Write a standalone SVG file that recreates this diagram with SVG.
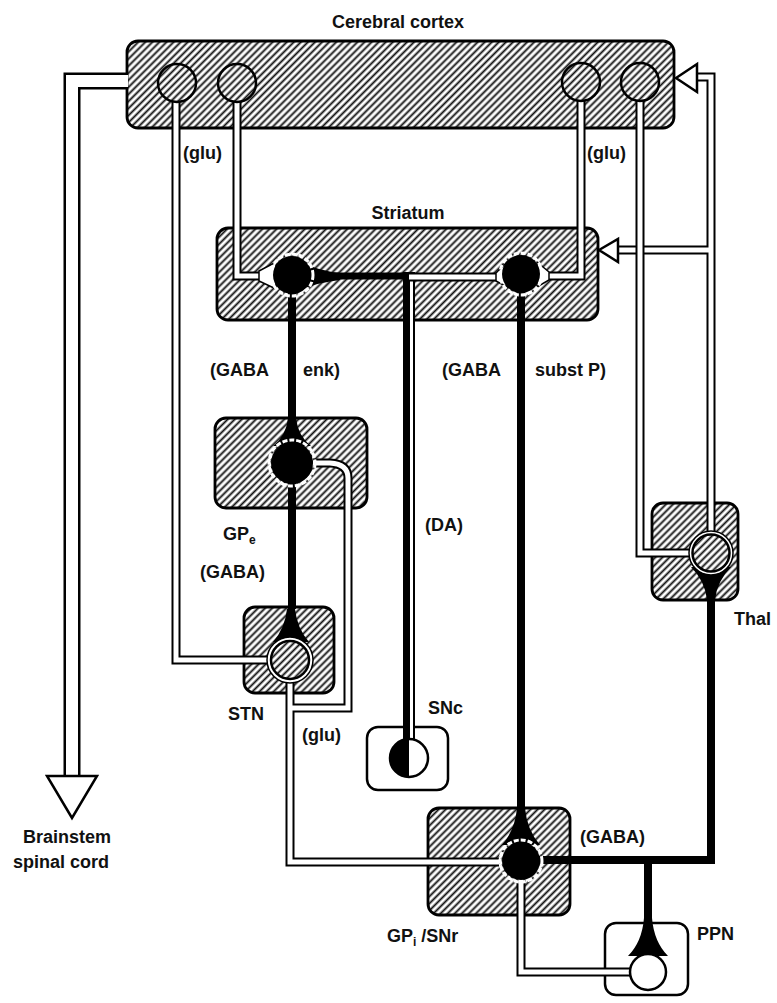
<svg xmlns="http://www.w3.org/2000/svg" xmlns:xlink="http://www.w3.org/1999/xlink" width="777" height="1003" viewBox="0 0 777 1003">
<defs>
<pattern id="hatch" patternUnits="userSpaceOnUse" width="5" height="5" patternTransform="rotate(45)">
<rect width="5" height="5" fill="#fff"/>
<line x1="2.5" y1="0" x2="2.5" y2="5" stroke="#111" stroke-width="1.9"/>
</pattern>
<style>
.box{fill:url(#hatch);stroke:#000;stroke-width:2.8}
.wbox{fill:#fff;stroke:#000;stroke-width:2.5}
.to{fill:none;stroke:#000;stroke-width:9}
.ti{fill:none;stroke:#fff;stroke-width:5}
.bto{fill:none;stroke:#000;stroke-width:17}
.bti{fill:none;stroke:#fff;stroke-width:12}
.ax{fill:none;stroke:#000;stroke-width:8}
.hc{fill:url(#hatch);stroke:#000;stroke-width:2.5}
.bc{fill:#000}
.ring{fill:none;stroke:#fff;stroke-width:3;stroke-dasharray:5 2}
.wedge{fill:#fff;stroke:#000;stroke-width:1.5}
.syn{fill:#000}
.head{fill:#fff;stroke:#000;stroke-width:2.5;stroke-linejoin:miter}
.lbl{font-family:"Liberation Sans",Arial,sans-serif;font-size:18px;font-weight:bold;fill:#111}
</style>
<path id="t-brain" d="M128 81 L72 81 L72 777"/>
<path id="t-c1" d="M176 100 L176 660 L269 660"/>
<path id="t-c2" d="M237 100 L237 276 L260 276"/>
<path id="t-c3" d="M581 100 L581 276 L548 276"/>
<path id="t-c4" d="M640 100 L640 553 L690 553"/>
<path id="t-thal" d="M711 534 L711 77 L697 77"/>
<path id="t-thal2" d="M711 250 L617 250"/>
<path id="t-stn" d="M290 680 L290 862 L499 862"/>
<path id="t-stn2" d="M290 708 L348 708 L348 478 Q348 464 330 463 L313 463"/>
<path id="t-ppn" d="M630 972 L521 972 L521 880"/>
<path id="t-da" d="M409 277 L500 277"/>
</defs>
<rect width="777" height="1003" fill="#fff"/>

<!-- node boxes -->
<g id="cortex">
<rect class="box" x="127" y="41" width="547" height="87" rx="11"/>
<text class="lbl" x="398" y="28" text-anchor="middle">Cerebral cortex</text>
</g>
<g id="striatum">
<rect class="box" x="217" y="228" width="381" height="92" rx="11"/>
<text class="lbl" x="408" y="219" text-anchor="middle">Striatum</text>
</g>
<g id="gpe">
<rect class="box" x="215" y="418" width="152" height="90" rx="11"/>
<text class="lbl" x="223" y="540">GP<tspan font-size="12" dy="4">e</tspan></text>
</g>
<g id="stn">
<rect class="box" x="244" y="607" width="90" height="86" rx="11"/>
<text class="lbl" x="228" y="720">STN</text>
</g>
<g id="snc">
<rect class="wbox" x="367" y="727" width="81" height="63" rx="11"/>
<text class="lbl" x="428" y="714">SNc</text>
</g>
<g id="gpi-snr">
<rect class="box" x="428" y="808" width="142" height="107" rx="11"/>
<text class="lbl" x="387" y="942">GP<tspan font-size="12" dy="4">i</tspan><tspan dy="-4"> /SNr</tspan></text>
</g>
<g id="thal">
<rect class="box" x="652" y="503" width="86" height="97" rx="11"/>
<text class="lbl" x="734" y="625">Thal</text>
</g>
<g id="ppn">
<rect class="wbox" x="605" y="923" width="83" height="72" rx="11"/>
<text class="lbl" x="697" y="940">PPN</text>
</g>
<g id="brainstem">
<text class="lbl" x="23" y="843">Brainstem</text>
<text class="lbl" x="13" y="868">spinal cord</text>
</g>

<!-- connectors -->
<g id="connectors">
<use xlink:href="#t-brain" class="bto"/><use xlink:href="#t-brain" class="bti"/>
<polygon class="head" points="47,776 97,776 72,818"/>
<use xlink:href="#t-thal" class="to"/><use xlink:href="#t-thal2" class="to"/>
<use xlink:href="#t-thal" class="ti"/><use xlink:href="#t-thal2" class="ti"/>
<polygon class="head" points="676,78 697,64 697,92"/>
<polygon class="head" points="599,250 618,239 618,262"/>
<use xlink:href="#t-c1" class="to"/><use xlink:href="#t-c1" class="ti"/>
<use xlink:href="#t-c2" class="to"/><use xlink:href="#t-c2" class="ti"/>
<use xlink:href="#t-c3" class="to"/><use xlink:href="#t-c3" class="ti"/>
<use xlink:href="#t-c4" class="to"/><use xlink:href="#t-c4" class="ti"/>
<use xlink:href="#t-stn" class="to"/><use xlink:href="#t-stn2" class="to"/>
<use xlink:href="#t-stn" class="ti"/><use xlink:href="#t-stn2" class="ti"/>
<use xlink:href="#t-ppn" class="to"/><use xlink:href="#t-ppn" class="ti"/>
<!-- DA -->
<path d="M409 740 L409 272" stroke="#000" stroke-width="12" fill="none"/>
<path d="M411.5 740 L411.5 280" stroke="#fff" stroke-width="3" fill="none"/>
<path d="M300 276 L413 276" stroke="#000" stroke-width="7" fill="none"/>
<use xlink:href="#t-da" class="to"/><use xlink:href="#t-da" class="ti"/>
<!-- GABA axons -->
<path class="ax" d="M292 280 L292 420"/>
<path class="ax" d="M292 463 L292 609"/>
<path class="ax" d="M521 280 L521 810"/>
<path class="ax" d="M535 860 L711 860 L711 598"/>
<path class="ax" d="M648 860 L648 920"/>
</g>

<!-- neurons -->
<g id="cortex-neurons">
<circle class="hc" cx="177" cy="83" r="19"/>
<circle class="hc" cx="237" cy="83" r="19"/>
<circle class="hc" cx="581" cy="82" r="19"/>
<circle class="hc" cx="640" cy="82" r="19"/>
</g>
<g id="striatum-neurons">
<polygon class="wedge" points="259,271 276,262 276,289 259,281"/>
<path class="bc" d="M300 262 Q320 271 340 273 L340 280 Q320 282 300 290 Z"/>
<circle class="bc" cx="292" cy="275" r="19"/>
<circle class="ring" cx="292" cy="275" r="21"/>
<polygon class="wedge" points="496,273 507,262 507,287 496,281"/>
<polygon class="wedge" points="549,272 537,262 537,287 549,280"/>
<circle class="bc" cx="521" cy="274" r="19"/>
<circle class="ring" cx="521" cy="274" r="21"/>
</g>
<g id="gpe-neuron">
<path class="syn" d="M288 418 L296 418 Q298 436 311 446 L273 446 Q286 436 288 418 Z"/>
<circle class="bc" cx="292" cy="463" r="21"/>
<circle class="ring" cx="292" cy="463" r="23"/>
</g>
<g id="stn-neuron">
<path class="syn" d="M287 609 L295 609 Q297 628 309 642 L273 642 Q285 628 287 609 Z"/>
<circle cx="290" cy="660" r="23" fill="#fff" stroke="#000" stroke-width="1.5"/>
<circle class="hc" cx="290" cy="660" r="19"/>
</g>
<g id="snc-neuron">
<circle cx="409" cy="758" r="19" fill="#fff"/>
<path d="M409 739 A19 19 0 0 0 409 777 Z" fill="#000"/>
<circle cx="409" cy="758" r="19" fill="none" stroke="#000" stroke-width="2.5"/>
</g>
<g id="gpi-neuron">
<path class="syn" d="M517 808 L525 808 Q527 830 540 845 L502 845 Q515 830 517 808 Z"/>
<circle class="bc" cx="521" cy="861" r="19"/>
<circle class="ring" cx="521" cy="861" r="21"/>
</g>
<g id="thal-neuron">
<path class="syn" d="M707 600 L715 600 Q717 581 731 567 L691 567 Q705 581 707 600 Z"/>
<circle cx="711" cy="553" r="22" fill="#fff" stroke="#000" stroke-width="1.5"/>
<circle class="hc" cx="711" cy="553" r="18.5"/>
</g>
<g id="ppn-neuron">
<path class="syn" d="M644 918 L652 918 Q654 942 668 956 L628 956 Q642 942 644 918 Z"/>
<circle cx="648" cy="972" r="18" fill="#fff" stroke="#000" stroke-width="2.5"/>
</g>

<!-- transmitter labels -->
<g id="labels">
<text class="lbl" x="183" y="159">(glu)</text>
<text class="lbl" x="587" y="159">(glu)</text>
<text class="lbl" x="210" y="376">(GABA</text>
<text class="lbl" x="303" y="376">enk)</text>
<text class="lbl" x="442" y="376">(GABA</text>
<text class="lbl" x="535" y="376">subst P)</text>
<text class="lbl" x="425" y="531">(DA)</text>
<text class="lbl" x="200" y="578">(GABA)</text>
<text class="lbl" x="302" y="741">(glu)</text>
<text class="lbl" x="580" y="843">(GABA)</text>
</g>
</svg>
